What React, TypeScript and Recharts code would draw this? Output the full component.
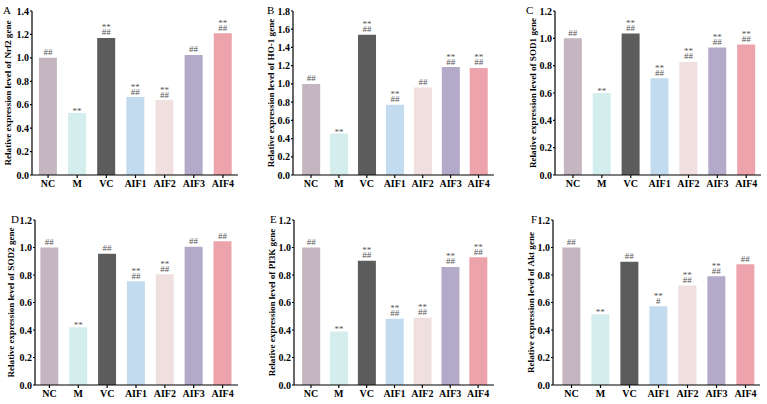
import { BarChart, Bar, XAxis, YAxis, Cell, LabelList } from "recharts";

const FONT = "'Liberation Serif', 'Times New Roman', serif";

const groups = ["NC", "M", "VC", "AIF1", "AIF2", "AIF3", "AIF4"];
const barColors = ["#c5b5c0", "#d4eeee", "#5c5c5c", "#c3dbef", "#f0dfdf", "#b3a9c8", "#eda3ab"];

// relative expression per gene
const nrf2 = [1.0, 0.53, 1.17, 0.665, 0.64, 1.025, 1.21];
const ho1 = [1.0, 0.455, 1.54, 0.77, 0.96, 1.185, 1.175];
const sod1 = [1.0, 0.6, 1.035, 0.708, 0.827, 0.933, 0.955];
const sod2 = [1.0, 0.42, 0.955, 0.755, 0.805, 1.005, 1.045];
const pi3k = [1.0, 0.39, 0.903, 0.482, 0.489, 0.859, 0.93];
const akt = [1.0, 0.514, 0.896, 0.572, 0.723, 0.791, 0.879];

// significance marks: "upper/lower"
const nrf2Sig = ["##", "**", "**/##", "**/##", "**/##", "##", "**/##"];
const ho1Sig = ["##", "**", "**/##", "**/##", "##", "**/##", "**/##"];
const sod1Sig = ["##", "**", "**/##", "**/##", "**/##", "**/##", "**/##"];
const sod2Sig = ["##", "**", "##", "**/##", "**/##", "##", "##"];
const pi3kSig = ["##", "**", "**/##", "**/##", "**/##", "**/##", "**/##"];
const aktSig = ["##", "**", "##", "**/#", "**/##", "**/##", "##"];

const ticks14 = [0, 0.2, 0.4, 0.6, 0.8, 1.0, 1.2, 1.4];
const ticks18 = [0, 0.2, 0.4, 0.6, 0.8, 1.0, 1.2, 1.4, 1.6, 1.8];
const ticks12 = [0, 0.2, 0.4, 0.6, 0.8, 1.0, 1.2];

const tickStyle = { fill: "#000", fontSize: 10, fontWeight: "bold", fontFamily: FONT };
const lineStyle = { stroke: "#000", strokeWidth: 1.2 };

function SigMarks(props: any) {
  const { x, y, width, value } = props;
  if (!value) return null;
  const cx = Number(x) + Number(width) / 2;
  const top = Number(y);
  const parts = String(value).split("/");
  const style = { fontFamily: FONT, fontSize: 9, fill: "#555" };
  if (parts.length === 2) {
    return (
      <text textAnchor="middle" {...style}>
        <tspan x={cx} y={top - 7.5}>{parts[0]}</tspan>
        <tspan x={cx} y={top - 2.5}>{parts[1]}</tspan>
      </text>
    );
  }
  return (
    <text x={cx} y={parts[0] === "**" ? top + 1 : top - 2.5} textAnchor="middle" {...style}>
      {parts[0]}
    </text>
  );
}

interface PanelProps {
  letter: string;
  gene: string;
  values: number[];
  sig: string[];
  ticks: number[];
  box: { x: number; y: number; w: number; h: number };
  plot: { left: number; right: number; top: number; bottom: number };
  pad: { left: number; right: number };
  titleX: number;
  letterX: number;
  letterY: number;
}

function Panel({ letter, gene, values, sig, ticks, box, plot, pad, titleX, letterX, letterY }: PanelProps) {
  const rows = groups.map((g, i) => ({ group: g, value: values[i], sig: sig[i] }));
  const max = ticks[ticks.length - 1];
  const cy = (plot.top + plot.bottom) / 2 - box.y;
  const tx = titleX - box.x;

  return (
    <div style={{ position: "absolute", left: box.x, top: box.y }}>
      <BarChart
        width={box.w}
        height={box.h}
        data={rows}
        margin={{
          top: plot.top - box.y,
          right: box.x + box.w - plot.right,
          left: 0,
          bottom: box.y + box.h - plot.bottom - 20,
        }}
        barCategoryGap="18.5%"
      >
        <XAxis
          dataKey="group"
          height={20}
          interval={0}
          tickSize={3}
          tickMargin={2}
          padding={pad}
          axisLine={lineStyle}
          tickLine={lineStyle}
          tick={tickStyle}
        />
        <XAxis xAxisId="top" orientation="top" height={0} tick={false} tickLine={false} axisLine={lineStyle} />
        <YAxis
          width={plot.left - box.x}
          domain={[0, max]}
          ticks={ticks}
          interval={0}
          tickSize={2}
          tickMargin={1}
          tickFormatter={(v: number) => v.toFixed(1)}
          axisLine={lineStyle}
          tickLine={lineStyle}
          tick={tickStyle}
          label={{
            content: () => (
              <g>
                <text
                  x={tx}
                  y={cy}
                  transform={`rotate(-90 ${tx} ${cy})`}
                  textAnchor="middle"
                  dominantBaseline="central"
                  fontFamily={FONT}
                  fontSize={9.1}
                  fontWeight="bold"
                  fill="#000"
                >
                  {`Relative expression level of ${gene} gene`}
                </text>
                <text x={letterX - box.x} y={letterY - box.y} fontFamily={FONT} fontSize={11} fill="#000">
                  {letter}
                </text>
              </g>
            ),
          }}
        />
        <YAxis yAxisId="right" orientation="right" width={0} tick={false} tickLine={false} axisLine={lineStyle} />
        <Bar dataKey="value" isAnimationActive={false}>
          {rows.map((r, i) => (
            <Cell key={r.group} fill={barColors[i]} />
          ))}
          <LabelList dataKey="sig" content={SigMarks} />
        </Bar>
      </BarChart>
    </div>
  );
}

export default function App() {
  return (
    <div style={{ position: "absolute", left: 0, top: 0, width: 767, height: 404, background: "#fff" }}>
      <Panel letter="A" gene="Nrf2" values={nrf2} sig={nrf2Sig} ticks={ticks14}
        box={{ x: 0, y: 0, w: 256, h: 202 }} plot={{ left: 32, right: 238, top: 11, bottom: 175 }}
        pad={{ left: 1.5, right: 0.5 }} titleX={8} letterX={3} letterY={14} />
      <Panel letter="B" gene="HO-1" values={ho1} sig={ho1Sig} ticks={ticks18}
        box={{ x: 256, y: 0, w: 255, h: 202 }} plot={{ left: 293, right: 494, top: 11, bottom: 175 }}
        pad={{ left: 4, right: 1.5 }} titleX={271} letterX={267} letterY={14} />
      <Panel letter="C" gene="SOD1" values={sod1} sig={sod1Sig} ticks={ticks12}
        box={{ x: 511, y: 0, w: 256, h: 202 }} plot={{ left: 555, right: 761, top: 11, bottom: 175 }}
        pad={{ left: 3.5, right: 0.3 }} titleX={533} letterX={526} letterY={14} />
      <Panel letter="D" gene="SOD2" values={sod2} sig={sod2Sig} ticks={ticks12}
        box={{ x: 0, y: 202, w: 256, h: 202 }} plot={{ left: 35, right: 238, top: 220, bottom: 385 }}
        pad={{ left: 0, right: 1 }} titleX={11} letterX={11} letterY={223} />
      <Panel letter="E" gene="PI3K" values={pi3k} sig={pi3kSig} ticks={ticks12}
        box={{ x: 256, y: 202, w: 255, h: 202 }} plot={{ left: 294, right: 494, top: 220, bottom: 385 }}
        pad={{ left: 3, right: 2 }} titleX={272} letterX={270} letterY={223} />
      <Panel letter="F" gene="Akt" values={akt} sig={aktSig} ticks={ticks12}
        box={{ x: 511, y: 202, w: 256, h: 202 }} plot={{ left: 553, right: 760, top: 220, bottom: 385 }}
        pad={{ left: 4, right: 0 }} titleX={531} letterX={531} letterY={223} />
    </div>
  );
}
